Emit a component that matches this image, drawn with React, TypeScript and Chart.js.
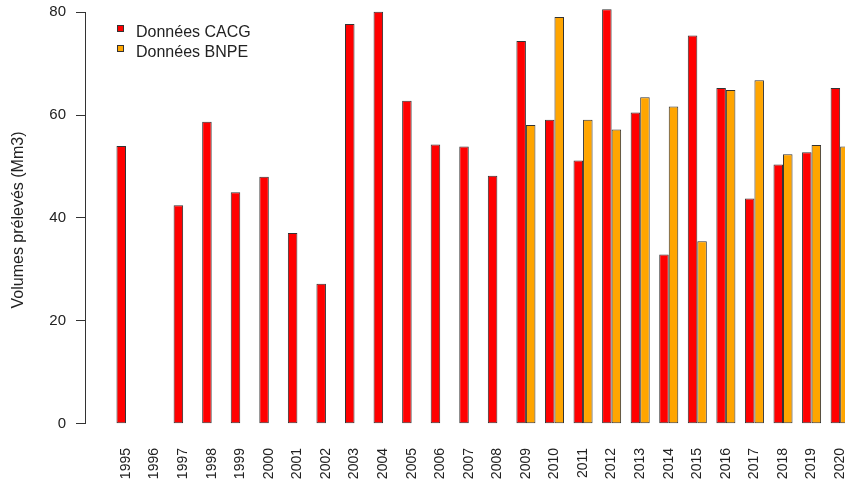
import React, { useEffect, useRef } from 'react';
import { Chart, registerables } from 'chart.js';

Chart.register(...registerables);

const years = [
  1995, 1996, 1997, 1998, 1999, 2000, 2001, 2002, 2003, 2004, 2005, 2006, 2007,
  2008, 2009, 2010, 2011, 2012, 2013, 2014, 2015, 2016, 2017, 2018, 2019, 2020,
];
const cacg = [
  54.0, null, 42.5, 58.7, 45.0, 48.0, 37.1, 27.2, 77.7, 80.1, 62.8, 54.3, 53.9,
  48.2, 74.4, 59.1, 51.2, 80.6, 60.5, 32.9, 75.5, 65.3, 43.8, 50.4, 52.8, 65.3,
];
const bnpe = [
  null, null, null, null, null, null, null, null, null, null, null, null, null,
  null, 58.1, 79.1, 59.1, 57.2, 63.5, 61.7, 35.5, 64.9, 66.8, 52.4, 54.2, 53.9,
];
const yTicks = [0, 20, 40, 60, 80];
const seriesNames = ['Données CACG', 'Données BNPE'];
const seriesColors = ['#FF0000', '#FFA500'];
const yTitle = 'Volumes prélevés (Mm3)';

const FONT = "'Liberation Sans', Arial, sans-serif";
const TEXT = '#222222';
const EDGE = '#333333';

export default function App() {
  const ref = useRef<HTMLCanvasElement | null>(null);

  useEffect(() => {
    if (!ref.current) return;

    const axisLinePlugin = {
      id: 'axisLine',
      afterDraw(chart: any) {
        const { ctx, chartArea, scales } = chart;
        const y = scales.y;
        const x = Math.round(chartArea.left) - 0.5;
        ctx.save();
        ctx.strokeStyle = EDGE;
        ctx.lineWidth = 1;
        ctx.beginPath();
        ctx.moveTo(x, y.getPixelForValue(yTicks[0]));
        ctx.lineTo(x, y.getPixelForValue(yTicks[yTicks.length - 1]));
        ctx.stroke();
        ctx.restore();
      },
    };

    const legendPlugin = {
      id: 'customLegend',
      afterDraw(chart: any) {
        const { ctx } = chart;
        ctx.save();
        ctx.font = `16px ${FONT}`;
        ctx.textBaseline = 'alphabetic';
        ctx.textAlign = 'left';
        seriesNames.forEach((name, i) => {
          const baseY = 36.7 + i * 20;
          ctx.fillStyle = seriesColors[i];
          ctx.fillRect(117.5, 25.5 + i * 20, 6, 6);
          ctx.strokeStyle = EDGE;
          ctx.lineWidth = 1;
          ctx.strokeRect(117.5, 25.5 + i * 20, 6, 6);
          ctx.fillStyle = TEXT;
          ctx.fillText(name, 136, baseY);
        });
        ctx.restore();
      },
    };

    const barStyle = {
      borderColor: EDGE,
      borderWidth: 1,
      borderSkipped: false,
      barPercentage: 1,
      categoryPercentage: 2 / 3,
    };

    const chart = new Chart(ref.current, {
      type: 'bar',
      data: {
        datasets: [
          {
            label: seriesNames[0],
            data: years.map((yr, i) => ({ x: yr, y: cacg[i] })),
            backgroundColor: seriesColors[0],
            ...barStyle,
          },
          {
            label: seriesNames[1],
            data: years.map((yr, i) => ({ x: yr, y: bnpe[i] })),
            backgroundColor: seriesColors[1],
            ...barStyle,
          },
        ] as any,
      },
      options: {
        responsive: false,
        animation: false,
        layout: { padding: 0 },
        plugins: {
          legend: { display: false },
          tooltip: { enabled: false },
          title: { display: false },
        },
        scales: {
          x: {
            type: 'linear',
            min: 1993.6,
            max: 2020.17,
            offset: false,
            grid: { display: false, drawTicks: false },
            border: { display: false },
            afterBuildTicks: (scale: any) => {
              scale.ticks = years.map((v) => ({ value: v }));
            },
            afterFit: (scale: any) => {
              scale.height = 42;
              scale.paddingLeft = 0;
              scale.paddingRight = 0;
            },
            ticks: {
              autoSkip: false,
              minRotation: 90,
              maxRotation: 90,
              padding: 8,
              color: TEXT,
              font: { family: FONT, size: 14 },
              callback: (v: any) => String(v),
            },
          },
          y: {
            type: 'linear',
            min: -3.17,
            max: 82.39,
            grid: {
              drawOnChartArea: false,
              drawTicks: true,
              tickLength: 10,
              color: EDGE,
            },
            border: { display: false },
            afterBuildTicks: (scale: any) => {
              scale.ticks = yTicks.map((v) => ({ value: v }));
            },
            afterFit: (scale: any) => {
              scale.width = 86;
              scale.paddingTop = 0;
              scale.paddingBottom = 0;
            },
            ticks: {
              padding: 10,
              color: TEXT,
              font: { family: FONT, size: 15 },
              callback: (v: any) => String(v),
            },
            title: {
              display: true,
              text: yTitle,
              color: TEXT,
              font: { family: FONT, size: 16 },
              padding: { top: 8.5, bottom: 0 },
            },
          },
        },
      },
      plugins: [axisLinePlugin, legendPlugin],
    });

    return () => chart.destroy();
  }, []);

  return (
    <div style={{ position: 'absolute', left: 0, top: 0, width: 845, height: 482, overflow: 'hidden', background: '#fff' }}>
      <canvas ref={ref} width={845} height={482} style={{ display: 'block' }} />
    </div>
  );
}
